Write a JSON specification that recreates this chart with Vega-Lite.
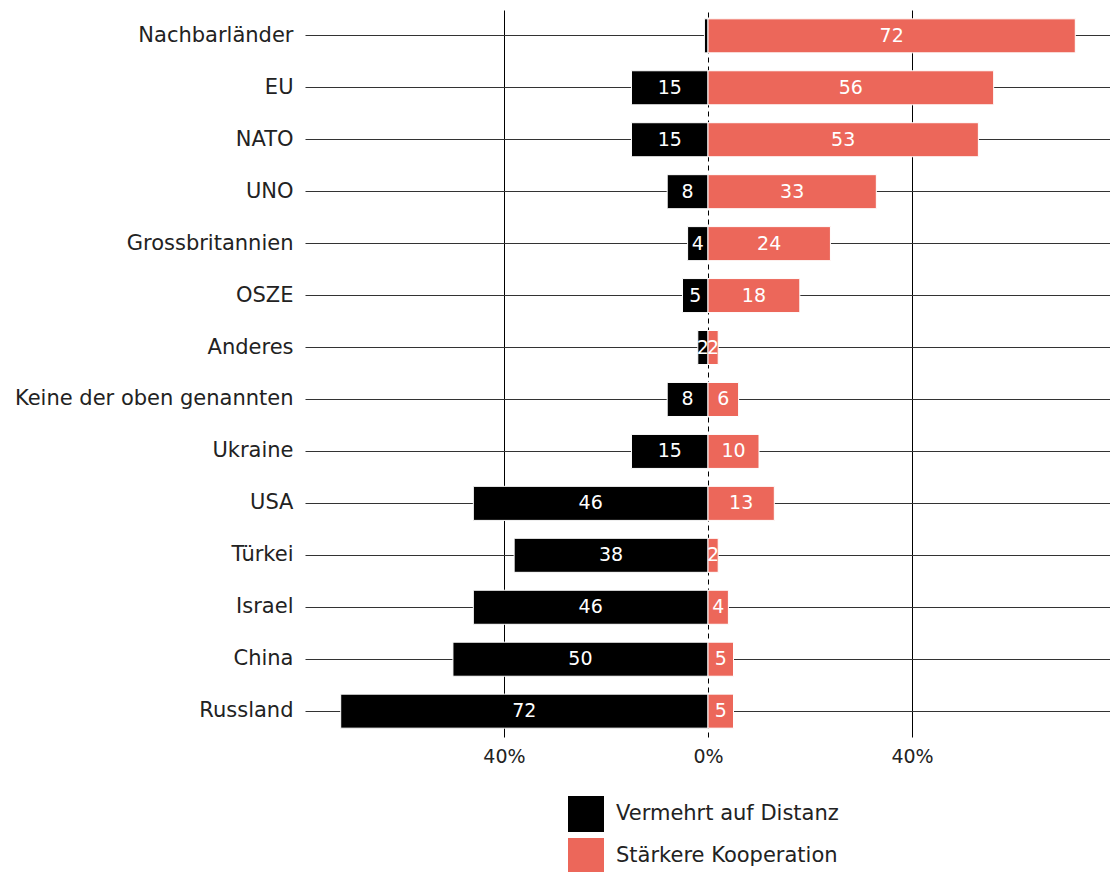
{
  "$schema": "https://vega.github.io/schema/vega-lite/v6.json",
  "width": 806,
  "height": 727,
  "autosize": {"type": "none"},
  "padding": {"left": 305, "top": 10, "right": 0, "bottom": 135},
  "background": "white",
  "config": {"font": "DejaVu Sans", "view": {"stroke": null}},
  "data": {
    "values": [
      {"land": "Nachbarländer", "typ": "Vermehrt auf Distanz", "wert": 0.7},
      {"land": "Nachbarländer", "typ": "Stärkere Kooperation", "wert": 72},
      {"land": "EU", "typ": "Vermehrt auf Distanz", "wert": 15},
      {"land": "EU", "typ": "Stärkere Kooperation", "wert": 56},
      {"land": "NATO", "typ": "Vermehrt auf Distanz", "wert": 15},
      {"land": "NATO", "typ": "Stärkere Kooperation", "wert": 53},
      {"land": "UNO", "typ": "Vermehrt auf Distanz", "wert": 8},
      {"land": "UNO", "typ": "Stärkere Kooperation", "wert": 33},
      {"land": "Grossbritannien", "typ": "Vermehrt auf Distanz", "wert": 4},
      {"land": "Grossbritannien", "typ": "Stärkere Kooperation", "wert": 24},
      {"land": "OSZE", "typ": "Vermehrt auf Distanz", "wert": 5},
      {"land": "OSZE", "typ": "Stärkere Kooperation", "wert": 18},
      {"land": "Anderes", "typ": "Vermehrt auf Distanz", "wert": 2},
      {"land": "Anderes", "typ": "Stärkere Kooperation", "wert": 2},
      {"land": "Keine der oben genannten", "typ": "Vermehrt auf Distanz", "wert": 8},
      {"land": "Keine der oben genannten", "typ": "Stärkere Kooperation", "wert": 6},
      {"land": "Ukraine", "typ": "Vermehrt auf Distanz", "wert": 15},
      {"land": "Ukraine", "typ": "Stärkere Kooperation", "wert": 10},
      {"land": "USA", "typ": "Vermehrt auf Distanz", "wert": 46},
      {"land": "USA", "typ": "Stärkere Kooperation", "wert": 13},
      {"land": "Türkei", "typ": "Vermehrt auf Distanz", "wert": 38},
      {"land": "Türkei", "typ": "Stärkere Kooperation", "wert": 2},
      {"land": "Israel", "typ": "Vermehrt auf Distanz", "wert": 46},
      {"land": "Israel", "typ": "Stärkere Kooperation", "wert": 4},
      {"land": "China", "typ": "Vermehrt auf Distanz", "wert": 50},
      {"land": "China", "typ": "Stärkere Kooperation", "wert": 5},
      {"land": "Russland", "typ": "Vermehrt auf Distanz", "wert": 72},
      {"land": "Russland", "typ": "Stärkere Kooperation", "wert": 5}
    ]
  },
  "transform": [
    {"calculate": "datum.typ === 'Vermehrt auf Distanz' ? -datum.wert : datum.wert", "as": "x"},
    {"calculate": "datum.x / 2", "as": "mid"}
  ],
  "layer": [
    {
      "mark": {"type": "bar", "stroke": "white", "strokeWidth": 1},
      "encoding": {
        "y": {
          "field": "land", "type": "nominal", "sort": null,
          "scale": {"paddingInner": 0.345, "paddingOuter": 0.17},
          "axis": {
            "title": null, "domain": false, "ticks": false,
            "labelFontSize": 21, "labelPadding": 12, "labelColor": "#222", "labelLimit": 0,
            "grid": true, "gridColor": "#333", "gridWidth": 1, "bandPosition": 0.5
          }
        },
        "x": {
          "field": "x", "type": "quantitative",
          "scale": {"domain": [-79, 79], "nice": false},
          "axis": {
            "title": null, "values": [-40, 0, 40],
            "labelExpr": "abs(datum.value) + '%'",
            "domain": false, "ticks": false,
            "labelFontSize": 19, "labelPadding": 10, "labelColor": "#222",
            "grid": true, "gridColor": "black", "gridWidth": 1,
            "gridDash": {"condition": {"test": "datum.value === 0", "value": [5, 4]}, "value": []}
          }
        },
        "color": {
          "field": "typ", "type": "nominal",
          "scale": {"domain": ["Vermehrt auf Distanz", "Stärkere Kooperation"], "range": ["#000000", "#EC675A"]},
          "legend": {
            "title": null, "orient": "none", "legendX": 263, "legendY": 786,
            "symbolType": "square", "symbolSize": 1296, "symbolStrokeWidth": 0,
            "labelFontSize": 21, "labelOffset": 12, "rowPadding": 6, "labelColor": "#222", "labelLimit": 0
          }
        }
      }
    },
    {
      "transform": [{"filter": "datum.wert >= 1"}],
      "mark": {"type": "text", "color": "white", "fontSize": 19, "align": "center", "baseline": "middle"},
      "encoding": {
        "y": {"field": "land", "type": "nominal", "sort": null},
        "x": {"field": "mid", "type": "quantitative"},
        "text": {"field": "wert", "type": "quantitative"}
      }
    }
  ]
}
